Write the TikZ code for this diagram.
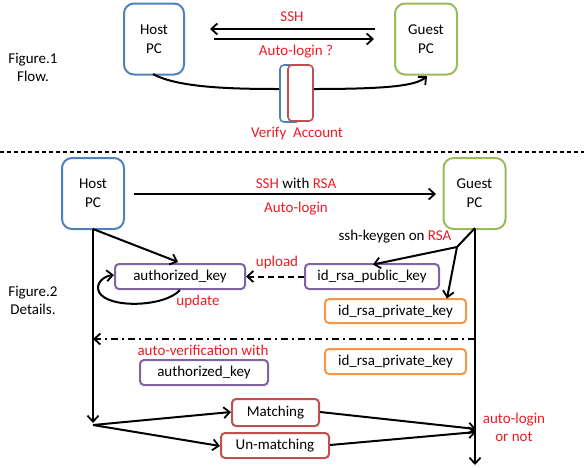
\documentclass[tikz,border=0pt]{standalone}
\usepackage{fontspec}
\setmainfont{Carlito}
\usetikzlibrary{arrows.meta}
\definecolor{cblue}{RGB}{79,129,189}
\definecolor{cgreen}{RGB}{155,187,89}
\definecolor{cpurple}{RGB}{128,100,162}
\definecolor{corange}{RGB}{247,150,70}
\definecolor{cdred}{RGB}{192,80,77}
\definecolor{tred}{RGB}{235,28,36}
\tikzset{
  pcbox/.style={draw, line width=2pt, rounded corners=10pt, minimum width=#1, minimum height=71pt, inner sep=0pt, align=center, font=\fontsize{15}{19}\selectfont},
  keybox/.style={draw, line width=2pt, rounded corners=4pt, inner sep=0pt, minimum height=25pt, font=\fontsize{15}{18}\selectfont},
  lbl/.style={inner sep=0pt, font=\fontsize{15}{18}\selectfont, align=center},
  rlbl/.style={lbl, text=tred},
  tip/.tip={Straight Barb[length=6pt,width=11pt,line width=1.8pt]},
  arr/.style={line width=2pt, -tip},
  ln/.style={line width=2pt}
}
\begin{document}
\begin{tikzpicture}[x=1pt,y=-1pt]
\useasboundingbox (0,0) rectangle (584,467);
% ---------- Figure 1 ----------
\node[pcbox=60pt, cblue, text=black] (host1) at (154,39) {Host\\PC};
\node[pcbox=62pt, cgreen, text=black] (guest1) at (426,39) {Guest\\PC};
\coordinate (a1s) at (375,29); \coordinate (a1e) at (210,29);
\coordinate (a2s) at (214,39); \coordinate (a2e) at (374,39);
\draw[arr] (a1s) -- (a1e);
\draw[arr] (a2s) -- (a2e);
\node[rlbl] (ssh1) at (292,17) {SSH};
\node[rlbl] (auto1) at (296,52) {Auto-login ?};
\node[draw=cblue, fill=white, line width=1.6pt, rounded corners=4pt, minimum width=20pt, minimum height=57pt, inner sep=0pt] (verb) at (290,93.5) {};
\node[draw=cdred, fill=white, line width=1.6pt, rounded corners=4pt, minimum width=25pt, minimum height=56pt, inner sep=0pt] (accb) at (300.5,93) {};
\coordinate (c1s) at (153,74);
\coordinate (c2e) at (427,76);
\draw[ln] (c1s) .. controls (178,88) and (235,89) .. (verb.west |- 0,89);
\draw[arr] (accb.east |- 0,89) .. controls (385,89) and (416,86) .. (c2e);
\node[rlbl] (verify) at (297,134) {Verify\ \ Account};
\node[lbl] (fig1) at (33,67.5) {Figure.1\\Flow.};
% separator
\coordinate (sepL) at (0,152); \coordinate (sepR) at (584,152);
\draw[line width=1.3pt, dash pattern=on 4pt off 3pt] (sepL) -- (sepR);
% ---------- Figure 2 ----------
\node[pcbox=62pt, cblue, text=black] (host2) at (93,193.5) {Host\\PC};
\node[pcbox=62pt, cgreen, text=black] (guest2) at (474.5,193.5) {Guest\\PC};
\coordinate (s2s) at (134,194); \coordinate (s2e) at (436,194);
\draw[arr] (s2s) -- (s2e);
\node[lbl] (ssh2) at (296,183) {\textcolor{tred}{SSH} with \textcolor{tred}{RSA}};
\node[rlbl] (auto2) at (296,209) {Auto-login};
% lifelines
\coordinate (hl0) at (93,229); \coordinate (hl1) at (93,423);
\coordinate (gl0) at (475,229); \coordinate (gl1) at (475,465);
\draw[arr] (hl0) -- (hl1);
\draw[arr] (gl0) -- (gl1);
% keys
\node[keybox, cpurple, text=black, minimum width=130pt] (auth1) at (180,276.5) {authorized\_key};
\node[keybox, cpurple, text=black, minimum width=134pt] (pub) at (372,276.5) {id\_rsa\_public\_key};
\node[keybox, corange, text=black, minimum width=141pt, minimum height=24pt] (priv1) at (395.5,311) {id\_rsa\_private\_key};
\coordinate (ha) at (93,229);
\draw[arr] (ha) -- (178,262) coordinate (haE);
\draw[arr] ([xshift=0pt]auth1.south) .. controls (165,307) and (108,309) .. (99,292) .. controls (95,283) and (104,276) .. (auth1.west |- 0,275);
\node[rlbl] (upd) at (198,301) {update};
\draw[line width=2pt, dash pattern=on 6pt off 4pt, -tip] (pub.west) -- (auth1.east);
\node[rlbl] (upl) at (277,262) {upload};
\node[lbl] (kg) at (395,237) {ssh-keygen on \textcolor{tred}{RSA}};
\coordinate (gb) at (475,228); \coordinate (br) at (457,247);
\draw[ln] (gb) -- (br);
\draw[arr] (br) -- (373,264.5) coordinate (brP);
\draw[arr] (br) -- (447,298.5) coordinate (brQ);
% verification
\coordinate (dd0) at (475,339); \coordinate (dd1) at (93,339);
\draw[line width=2pt, dash pattern=on 7pt off 4pt on 2pt off 4pt, -tip] (dd0) -- (dd1);
\node[rlbl] (av) at (203,350) {auto-verification with};
\node[keybox, cpurple, text=black, minimum width=128pt] (auth2) at (204,372.5) {authorized\_key};
\node[keybox, corange, text=black, minimum width=141pt] (priv2) at (395.5,361.5) {id\_rsa\_private\_key};
% matching
\node[keybox, cdred, text=black, minimum width=87pt, minimum height=27pt] (match) at (275.5,412.5) {Matching};
\node[keybox, cdred, text=black, minimum width=108pt] (unmatch) at (275,445.5) {Un-matching};
\coordinate (sp) at (93,425);
\draw[arr] (sp) -- (match.west |- 0,412);
\draw[arr] (sp) -- (unmatch.west |- 0,446);
\coordinate (j1) at (476,429); \coordinate (j2) at (476,432);
\draw[arr] (match.east |- 0,412) -- (j1);
\draw[arr] (unmatch.east |- 0,445) -- (j2);
\node[rlbl] (al) at (514,427.5) {auto-login\\or not};
\node[lbl] (fig2) at (33,300) {Figure.2\\Details.};
\end{tikzpicture}
\end{document}
